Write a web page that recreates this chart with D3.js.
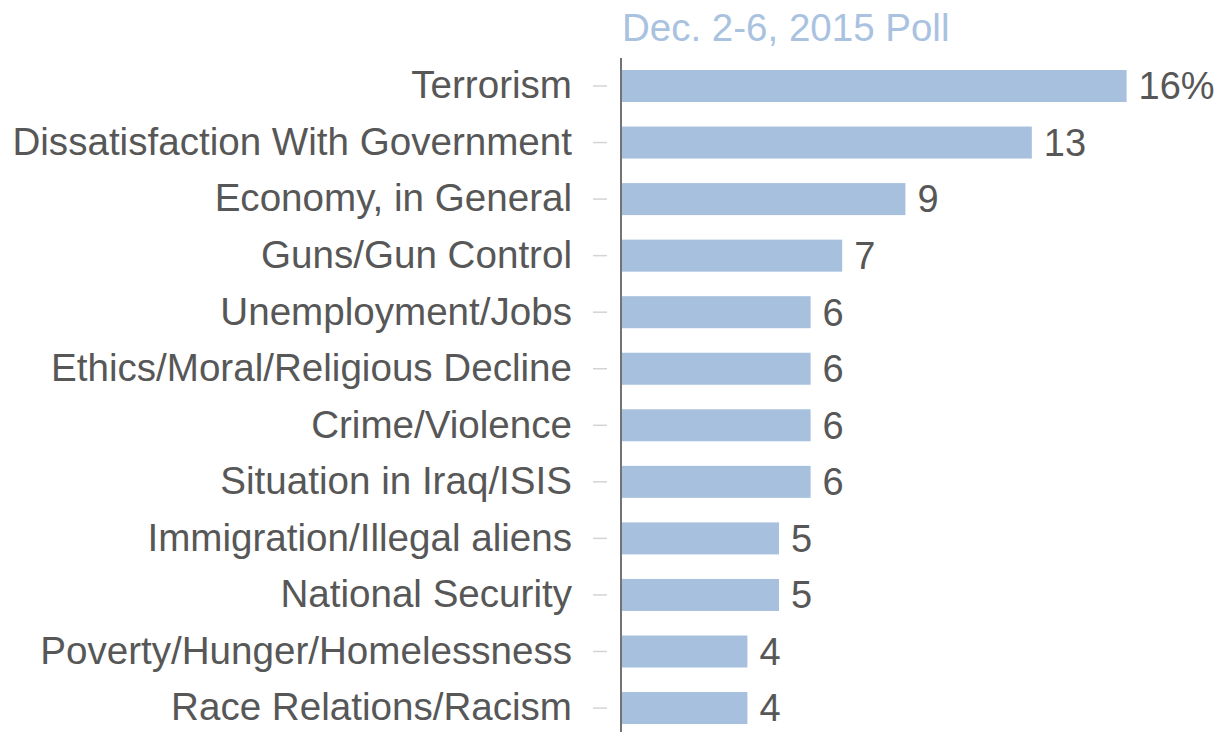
<!DOCTYPE html>
<html>
<head>
<meta charset="utf-8">
<script src="https://cdn.jsdelivr.net/npm/d3@7"></script>
<style>
  body { margin: 0; background: #fff; }
  svg { font-family: "Liberation Sans", Arial, Helvetica, sans-serif; }
</style>
</head>
<body>
<svg id="chart" width="1222" height="732"></svg>
<script>
// Most important problem, Dec. 2-6, 2015 poll
var categories = [
  "Terrorism",
  "Dissatisfaction With Government",
  "Economy, in General",
  "Guns/Gun Control",
  "Unemployment/Jobs",
  "Ethics/Moral/Religious Decline",
  "Crime/Violence",
  "Situation in Iraq/ISIS",
  "Immigration/Illegal aliens",
  "National Security",
  "Poverty/Hunger/Homelessness",
  "Race Relations/Racism"
];
var values = [16, 13, 9, 7, 6, 6, 6, 6, 5, 5, 4, 4];
var pollTitle = "Dec. 2-6, 2015 Poll";

var svg = d3.select("#chart");

var axisX = 621;
var step = 56.55;

var x = d3.scaleLinear()
  .domain([0, 16])
  .range([axisX, axisX + 16 * 31.6]);

var y = d3.scaleBand()
  .domain(categories)
  .range([86 - step / 2, 86 + step * (categories.length - 0.5)])
  .paddingInner(0.434)
  .paddingOuter(0.217);

// title above the bars
svg.append("text")
  .attr("x", axisX + 1)
  .attr("y", 41)
  .style("font-size", "38.5px")
  .style("fill", "#a9c2df")
  .text(pollTitle);

// category labels with small grey ticks
var yAxis = d3.axisLeft(y)
  .tickSize(14)
  .tickPadding(21);

var gy = svg.append("g")
  .attr("transform", "translate(607,0)")
  .call(yAxis);

gy.select(".domain").remove();
gy.selectAll(".tick line")
  .attr("stroke", "#d4d4d4")
  .attr("stroke-width", 1.5);
gy.selectAll(".tick text")
  .style("font-size", "38.6px")
  .style("fill", "#575757")
  .attr("font-family", null);

// bars
svg.selectAll("rect.bar")
  .data(values)
  .enter().append("rect")
  .attr("class", "bar")
  .attr("x", x(0) + 1)
  .attr("y", function(d, i) { return y(categories[i]); })
  .attr("width", function(d) { return x(d) - x(0) - 1; })
  .attr("height", y.bandwidth())
  .style("fill", "#a6c0de");

// value labels
svg.selectAll("text.value")
  .data(values)
  .enter().append("text")
  .attr("class", "value")
  .attr("x", function(d) { return x(d) + 12; })
  .attr("y", function(d, i) { return y(categories[i]) + y.bandwidth() / 2; })
  .attr("dy", "0.35em")
  .style("font-size", "38px")
  .style("fill", "#575757")
  .text(function(d, i) { return i === 0 ? d + "%" : d; });

// vertical axis line
svg.append("line")
  .attr("x1", axisX)
  .attr("x2", axisX)
  .attr("y1", 58)
  .attr("y2", 732)
  .attr("stroke", "#444")
  .attr("stroke-width", 1.5);
</script>
</body>
</html>
